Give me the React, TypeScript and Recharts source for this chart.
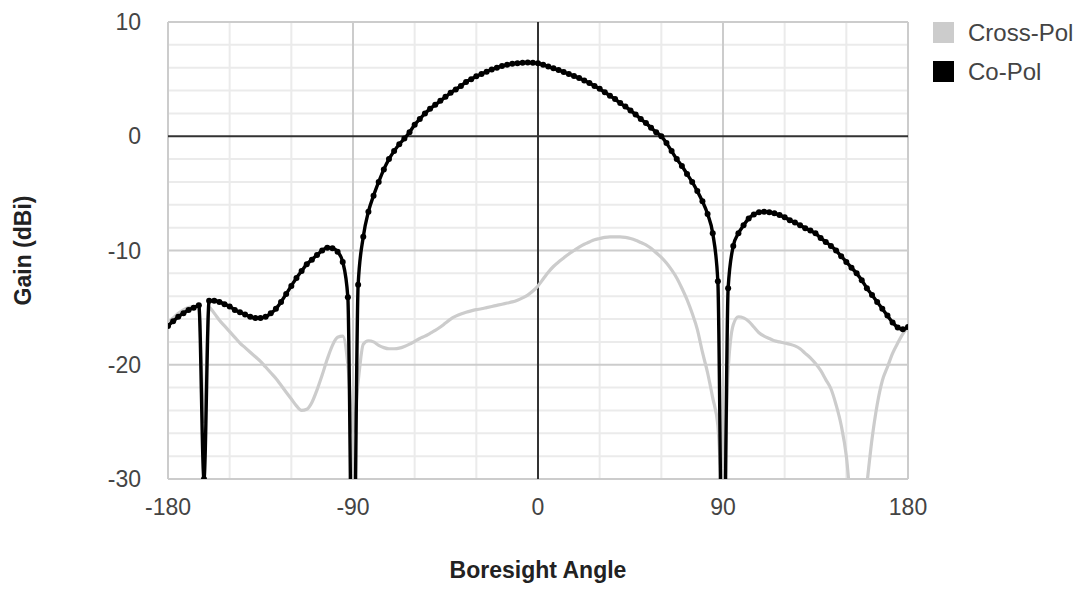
import React from 'react';
import { LineChart, Line, XAxis, YAxis, CartesianGrid } from 'recharts';

const angles = [
  -180, -177.5, -175, -172.5, -170, -167.5, -165, -162.5, -160, -157.5, -155, -152.5, -150, -147.5, -145, -142.5,
  -140, -137.5, -135, -132.5, -130, -127.5, -125, -122.5, -120, -117.5, -115, -112.5, -110, -107.5, -105, -102.5,
  -100, -97.5, -95, -92.5, -90, -87.5, -85, -82.5, -80, -77.5, -75, -72.5, -70, -67.5, -65, -62.5,
  -60, -57.5, -55, -52.5, -50, -47.5, -45, -42.5, -40, -37.5, -35, -32.5, -30, -27.5, -25, -22.5,
  -20, -17.5, -15, -12.5, -10, -7.5, -5, -2.5, 0, 2.5, 5, 7.5, 10, 12.5, 15, 17.5,
  20, 22.5, 25, 27.5, 30, 32.5, 35, 37.5, 40, 42.5, 45, 47.5, 50, 52.5, 55, 57.5,
  60, 62.5, 65, 67.5, 70, 72.5, 75, 77.5, 80, 82.5, 85, 87.5, 90, 92.5, 95, 97.5,
  100, 102.5, 105, 107.5, 110, 112.5, 115, 117.5, 120, 122.5, 125, 127.5, 130, 132.5, 135, 137.5,
  140, 142.5, 145, 147.5, 150, 152.5, 155, 157.5, 160, 162.5, 165, 167.5, 170, 172.5, 175, 177.5, 180,
];

const coPol = [
  -16.6, -16.2, -15.8, -15.5, -15.2, -15.0, -14.8, -30, -14.4, -14.4, -14.5, -14.7, -14.9, -15.2, -15.4, -15.6,
  -15.8, -15.9, -15.9, -15.8, -15.5, -15.1, -14.5, -13.8, -13.1, -12.4, -11.8, -11.2, -10.8, -10.4, -10.0, -9.75,
  -9.8, -10.1, -11.0, -14.1, -45, -13.0, -8.8, -6.6, -5.2, -4.0, -2.9, -2.0, -1.3, -0.7, -0.2, 0.35,
  1.0, 1.5, 2.0, 2.4, 2.75, 3.1, 3.45, 3.8, 4.1, 4.4, 4.75, 5.0, 5.25, 5.45, 5.65, 5.85,
  6.0, 6.15, 6.25, 6.35, 6.4, 6.43, 6.45, 6.43, 6.38, 6.25, 6.1, 5.95, 5.8, 5.62, 5.45, 5.27,
  5.1, 4.88, 4.65, 4.4, 4.15, 3.85, 3.55, 3.25, 2.9, 2.6, 2.25, 1.9, 1.5, 1.15, 0.75, 0.35,
  0, -0.6, -1.3, -2.0, -2.6, -3.3, -4.0, -4.8, -5.7, -6.8, -8.5, -12.7, -45, -13.3, -9.6, -8.5,
  -7.8, -7.2, -6.85, -6.65, -6.6, -6.65, -6.75, -6.9, -7.1, -7.35, -7.55, -7.8, -8.05, -8.25, -8.5, -8.9,
  -9.25, -9.6, -10.0, -10.5, -11.0, -11.5, -12.0, -12.6, -13.3, -13.9, -14.5, -15.1, -15.7, -16.3, -16.75, -16.9, -16.7,
];

const crossPol = [
  -16.3, -15.9, -15.5, -15.2, -15.0, -14.9, -15.0, -25, -15.0, -15.5, -16.1, -16.6, -17.1, -17.6, -18.1, -18.5,
  -18.9, -19.3, -19.7, -20.2, -20.7, -21.2, -21.8, -22.4, -23.0, -23.6, -24.0, -23.9, -23.3, -22.2, -20.9, -19.5,
  -18.3, -17.6, -17.5, -20, -26, -21.5, -18.2, -17.9, -18.0, -18.3, -18.5, -18.6, -18.6, -18.55, -18.4, -18.2,
  -17.95, -17.7, -17.5, -17.25, -17.0, -16.7, -16.35, -16.0, -15.75, -15.55, -15.4, -15.28, -15.18, -15.1, -15.0, -14.9,
  -14.8, -14.7, -14.6, -14.5, -14.35, -14.15, -13.9, -13.55, -13.1, -12.5, -11.9, -11.4, -11.0, -10.65, -10.3, -10.0,
  -9.7, -9.45, -9.25, -9.05, -8.95, -8.85, -8.8, -8.8, -8.8, -8.85, -8.95, -9.1, -9.3, -9.5, -9.8, -10.2,
  -10.6, -11.1, -11.7, -12.4, -13.3, -14.3, -15.5, -16.9, -18.9, -20.7, -22.9, -25.3, -32, -20.5, -16.5, -15.8,
  -15.9, -16.2, -16.7, -17.2, -17.5, -17.7, -17.9, -18.0, -18.1, -18.2, -18.35, -18.6, -19.0, -19.4, -19.9, -20.5,
  -21.3, -22.1, -23.5, -25.3, -28.0, -33, -38, -35, -30.5, -26.5, -23.5, -21.4, -20.2, -19.0, -18.1, -17.3, -16.7,
];

const xTicks = [-180, -90, 0, 90, 180];
const yTicks = [-30, -20, -10, 0, 10];
const xMajorGrid = [-180, -90, 90, 180];
const xMinorGrid = [-150, -120, -60, -30, 30, 60, 120, 150];
const yMajorGrid = [-30, -20, -10, 10];
const yMinorGrid = [-28, -26, -24, -22, -18, -16, -14, -12, -8, -6, -4, -2, 2, 4, 6, 8];
const zeroGrid = [0];

const seriesNames = ['Cross-Pol', 'Co-Pol'];
const seriesColors = ['#cccccc', '#000000'];

const data = angles.map((a, i) => ({ angle: a, cross: crossPol[i], co: coPol[i] }));

const FONT = '"Liberation Sans", Arial, Helvetica, sans-serif';
const FS = 23;

const XTick = (props: any) => {
  const { x, y, payload } = props;
  return (
    <text x={x} y={y + 36} textAnchor="middle" fontFamily={FONT} fontSize={FS} fill="#444">
      {payload.value}
    </text>
  );
};

const YTick = (props: any) => {
  const { x, y, payload } = props;
  return (
    <text x={x - 27} y={y + 8} textAnchor="end" fontFamily={FONT} fontSize={FS} fill="#444">
      {payload.value}
    </text>
  );
};

const XLabel = (props: any) => {
  const vb = props.viewBox || { x: 168, y: 479, width: 740, height: 110 };
  return (
    <text x={vb.x + vb.width / 2} y={vb.y + 99} textAnchor="middle" fontFamily={FONT} fontSize={FS} fontWeight="bold" fill="#222">
      Boresight Angle
    </text>
  );
};

const YLabel = (props: any) => {
  const vb = props.viewBox || { x: 0, y: 22, width: 168, height: 457 };
  const cx = vb.x + 31;
  const cy = vb.y + vb.height / 2;
  return (
    <text x={cx} y={cy} transform={`rotate(-90 ${cx} ${cy})`} textAnchor="middle" fontFamily={FONT} fontSize={FS} fontWeight="bold" fill="#222">
      Gain (dBi)
    </text>
  );
};

export default function App() {
  return (
    <div style={{ position: 'absolute', left: 0, top: 0, width: 1086, height: 589, background: '#fff' }}>
      <LineChart width={1086} height={589} data={data} margin={{ top: 22, right: 178, bottom: 0, left: 0 }}>
        <CartesianGrid horizontalValues={yMinorGrid} verticalValues={xMinorGrid} stroke="#ebebeb" strokeWidth={2} />
        <CartesianGrid horizontalValues={yMajorGrid} verticalValues={xMajorGrid} stroke="#cccccc" strokeWidth={2} />
        <CartesianGrid horizontalValues={zeroGrid} verticalValues={zeroGrid} stroke="#333333" strokeWidth={2} />
        <XAxis
          dataKey="angle"
          type="number"
          domain={[-180, 180]}
          ticks={xTicks}
          allowDataOverflow
          height={110}
          axisLine={false}
          tickLine={false}
          tickSize={0}
          tickMargin={0}
          tick={XTick}
          interval={0}
          label={<XLabel />}
        />
        <YAxis
          type="number"
          domain={[-30, 10]}
          ticks={yTicks}
          allowDataOverflow
          width={168}
          axisLine={false}
          tickLine={false}
          tickSize={0}
          tickMargin={0}
          tick={YTick}
          interval={0}
          label={<YLabel />}
        />
        <Line
          dataKey="cross"
          name={seriesNames[0]}
          type="monotone"
          stroke={seriesColors[0]}
          strokeWidth={3.2}
          dot={false}
          activeDot={false}
          isAnimationActive={false}
        />
        <Line
          dataKey="co"
          name={seriesNames[1]}
          type="monotone"
          stroke={seriesColors[1]}
          strokeWidth={3.4}
          dot={{ r: 3, fill: '#000', stroke: '#000', strokeWidth: 0 }}
          activeDot={false}
          isAnimationActive={false}
        />
      </LineChart>
      <div style={{ position: 'absolute', left: 933, top: 22, fontFamily: FONT, fontSize: 24, color: '#444' }}>
        {seriesNames.map((n, i) => (
          <div key={n} style={{ display: 'flex', alignItems: 'center', height: 21, marginBottom: 18 }}>
            <div style={{ width: 21, height: 21, background: seriesColors[i], marginRight: 14 }} />
            <span style={{ lineHeight: '21px', whiteSpace: 'nowrap' }}>{n}</span>
          </div>
        ))}
      </div>
    </div>
  );
}
